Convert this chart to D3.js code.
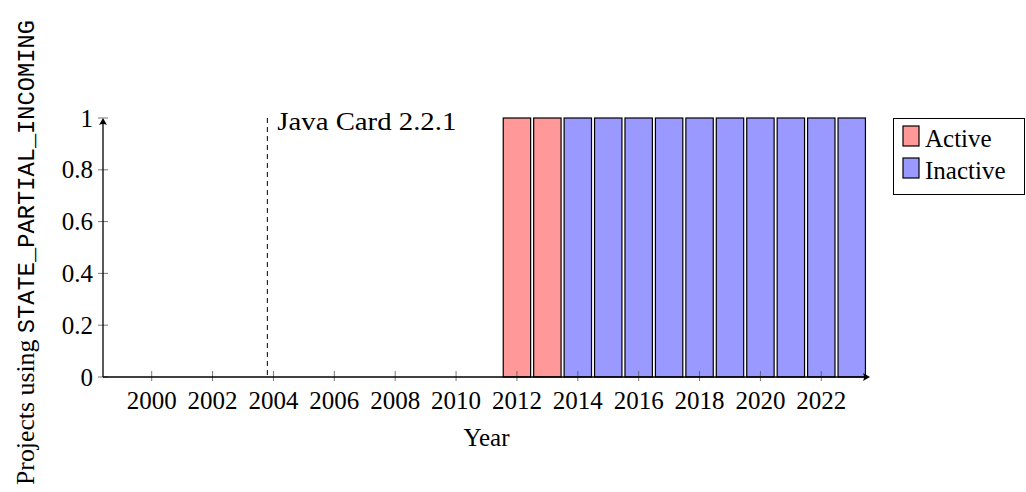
<!DOCTYPE html>
<head>
  <meta charset="utf-8">
  <script src="https://d3js.org/d3.v7.min.js"></script>
  <style>
    body { margin: 0; background: #fff; }
    text { font-family: "Liberation Serif", serif; fill: #000; }
    .mono { font-family: "Liberation Mono", monospace; }
  </style>
</head>
<body>
  <script>
    // chart data
    var years = [2012, 2013, 2014, 2015, 2016, 2017, 2018, 2019, 2020, 2021, 2022, 2023];
    var activeValues = [1, 1, 0, 0, 0, 0, 0, 0, 0, 0, 0, 0];
    var inactiveValues = [0, 0, 1, 1, 1, 1, 1, 1, 1, 1, 1, 1];
    var seriesNames = ["Active", "Inactive"];
    var seriesColors = ["#ff9999", "#9999ff"];
    var xTickValues = [2000, 2002, 2004, 2006, 2008, 2010, 2012, 2014, 2016, 2018, 2020, 2022];
    var yTickValues = [0, 0.2, 0.4, 0.6, 0.8, 1];
    var markerYear = 2003.8;
    var markerLabel = "Java Card 2.2.1";

    var outerWidth = 1026,
      outerHeight = 492;

    // plot area in pixels
    var plot = { left: 103, right: 870, top: 118, bottom: 377 };

    var xScale = d3.scaleLinear()
      .domain([1998.4, 2023.6])
      .range([plot.left, plot.right]);

    var yScale = d3.scaleLinear()
      .domain([0, 1])
      .range([plot.bottom, plot.top]);

    var svg = d3.select("body")
      .append("svg")
      .attr("width", outerWidth)
      .attr("height", outerHeight);

    // stack the two series
    var rows = years.map(function(y, i) {
      return { year: y, Active: activeValues[i], Inactive: inactiveValues[i] };
    });
    var stacked = d3.stack().keys(seriesNames)(rows);

    var barHalf = 0.45;
    stacked.forEach(function(layer, li) {
      svg.append("g")
        .selectAll("rect")
        .data(layer.filter(function(d) { return d[1] - d[0] > 0; }))
        .enter()
        .append("rect")
        .attr("x", function(d) { return xScale(d.data.year - barHalf); })
        .attr("width", function(d) { return xScale(d.data.year + barHalf) - xScale(d.data.year - barHalf); })
        .attr("y", function(d) { return yScale(d[1]); })
        .attr("height", function(d) { return yScale(d[0]) - yScale(d[1]); })
        .attr("fill", seriesColors[li])
        .attr("stroke", "#000")
        .attr("stroke-width", 1.2);
    });

    // dashed marker line
    svg.append("line")
      .attr("x1", xScale(markerYear)).attr("x2", xScale(markerYear))
      .attr("y1", yScale(1)).attr("y2", yScale(0))
      .attr("stroke", "#000")
      .attr("stroke-width", 1)
      .attr("stroke-dasharray", "5,4");

    svg.append("text")
      .attr("x", xScale(markerYear) + 10)
      .attr("y", yScale(1) + 12)
      .attr("font-size", 25)
      .attr("textLength", 179)
      .attr("lengthAdjust", "spacingAndGlyphs")
      .text(markerLabel);

    // x ticks (centered on the axis line)
    svg.append("g")
      .selectAll("line")
      .data(xTickValues)
      .enter()
      .append("line")
      .attr("x1", function(d) { return xScale(d); })
      .attr("x2", function(d) { return xScale(d); })
      .attr("y1", plot.bottom - 6)
      .attr("y2", plot.bottom + 4)
      .attr("stroke", "#555")
      .attr("stroke-width", 0.8);

    svg.append("g")
      .selectAll("text")
      .data(xTickValues)
      .enter()
      .append("text")
      .attr("x", function(d) { return xScale(d); })
      .attr("y", 409)
      .attr("text-anchor", "middle")
      .attr("font-size", 25)
      .text(function(d) { return d; });

    // y ticks
    svg.append("g")
      .selectAll("line")
      .data(yTickValues)
      .enter()
      .append("line")
      .attr("x1", plot.left - 5)
      .attr("x2", plot.left + 5)
      .attr("y1", function(d) { return yScale(d); })
      .attr("y2", function(d) { return yScale(d); })
      .attr("stroke", "#555")
      .attr("stroke-width", 0.8);

    svg.append("g")
      .selectAll("text")
      .data(yTickValues)
      .enter()
      .append("text")
      .attr("x", 93)
      .attr("y", function(d) { return yScale(d) + 8.5; })
      .attr("text-anchor", "end")
      .attr("font-size", 25)
      .text(function(d) { return d3.format("~g")(d); });

    // axis lines with arrow heads
    svg.append("line")
      .attr("x1", plot.left).attr("x2", plot.right - 2)
      .attr("y1", plot.bottom).attr("y2", plot.bottom)
      .attr("stroke", "#000").attr("stroke-width", 1.3);
    svg.append("line")
      .attr("x1", plot.left).attr("x2", plot.left)
      .attr("y1", plot.bottom).attr("y2", plot.top + 2)
      .attr("stroke", "#000").attr("stroke-width", 1.3);

    svg.append("path")
      .attr("d", "M" + plot.right + "," + plot.bottom +
        " l-7,-4 q2,4 0,8 z")
      .attr("fill", "#000");
    svg.append("path")
      .attr("d", "M" + plot.left + "," + plot.top +
        " l-4,7 q4,-2 8,0 z")
      .attr("fill", "#000");

    // axis titles
    svg.append("text")
      .attr("x", (plot.left + plot.right) / 2)
      .attr("y", 446)
      .attr("text-anchor", "middle")
      .attr("font-size", 25)
      .text("Year");

    var yTitle = svg.append("text")
      .attr("transform", "translate(34,485) rotate(-90)")
      .attr("font-size", 25)
      .attr("textLength", 465)
      .attr("lengthAdjust", "spacingAndGlyphs");
    yTitle.append("tspan").text("Projects using ");
    yTitle.append("tspan").attr("class", "mono").attr("font-size", 23).text("STATE_PARTIAL_INCOMING");

    // legend
    var legend = svg.append("g");
    legend.append("rect")
      .attr("x", 893.5).attr("y", 118.5)
      .attr("width", 131).attr("height", 76)
      .attr("fill", "#fff")
      .attr("stroke", "#000")
      .attr("stroke-width", 1);

    seriesNames.forEach(function(name, i) {
      var top = 126 + i * 32;
      legend.append("rect")
        .attr("x", 903).attr("y", top)
        .attr("width", 16).attr("height", 20)
        .attr("fill", seriesColors[i])
        .attr("stroke", "#000")
        .attr("stroke-width", 1.2);
      legend.append("text")
        .attr("x", 925)
        .attr("y", top + 21)
        .attr("font-size", 25)
        .text(name);
    });
  </script>
</body>
